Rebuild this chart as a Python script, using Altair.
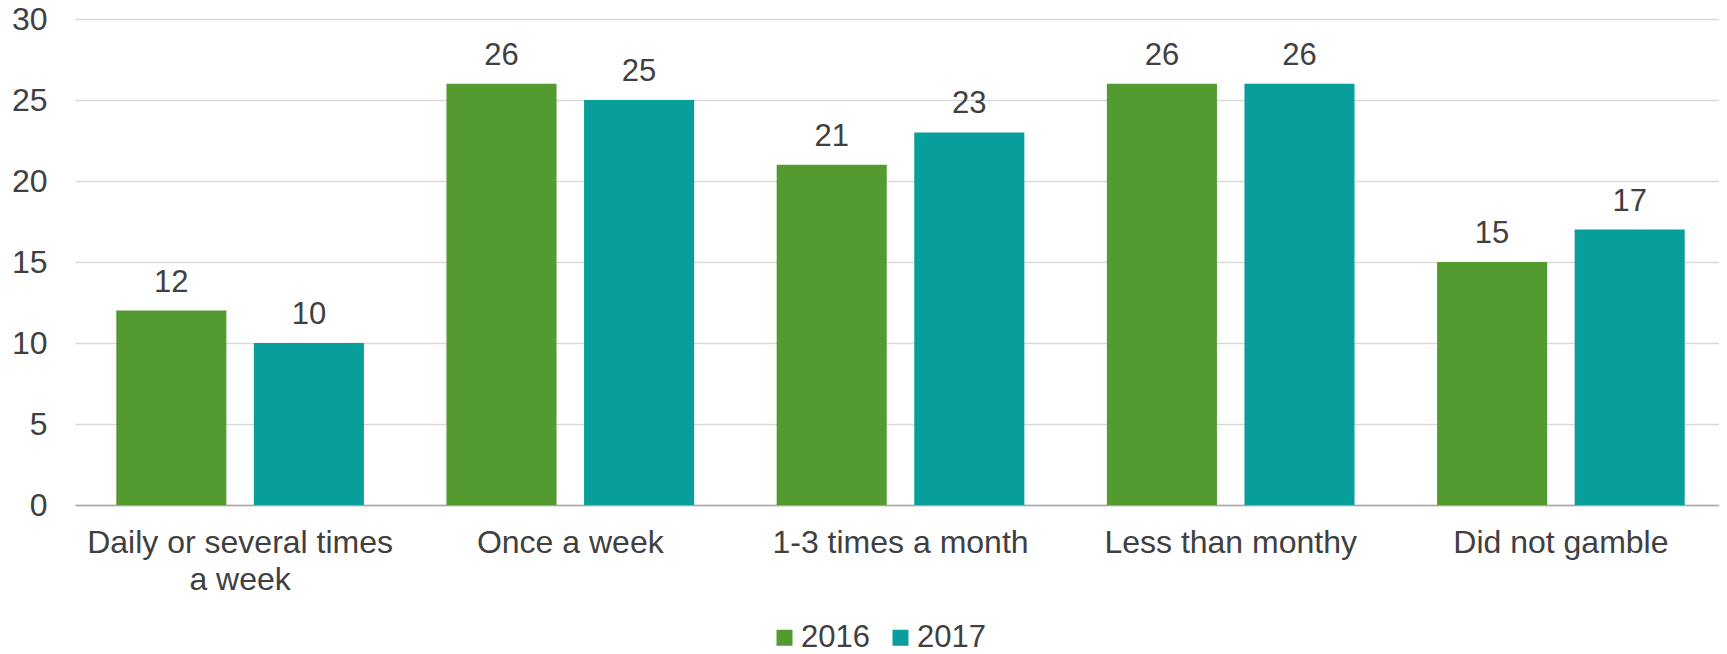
import altair as alt
import pandas as pd

categories = ["Daily or several times|a week", "Once a week", "1-3 times a month",
              "Less than monthy", "Did not gamble"]
years = ["2016", "2017"]
values_2016 = [12, 26, 21, 26, 15]
values_2017 = [10, 25, 23, 26, 17]
colors = ["#539A30", "#089E9C"]

rows = []
for c, v in zip(categories, values_2016):
    rows.append({"cat": c, "year": "2016", "value": v})
for c, v in zip(categories, values_2017):
    rows.append({"cat": c, "year": "2017", "value": v})
df = pd.DataFrame(rows)

FONT = "Liberation Sans"
TXT = "#404040"

x = alt.X("cat:N", sort=categories, title=None,
          scale=alt.Scale(paddingInner=0.25, paddingOuter=0.125, range=[0, 1651]),
          axis=alt.Axis(labelExpr="split(datum.label, '|')", labelAngle=0, labelLimit=0,
                        labelFontSize=32, labelFont=FONT, labelColor=TXT,
                        labelLineHeight=37, labelPadding=22, ticks=False,
                        domainColor="#a6a6a6", domainWidth=1.5, labelBaseline="top"))
xo = alt.XOffset("year:N", sort=years, scale=alt.Scale(paddingInner=0.2, paddingOuter=0))

y = alt.Y("value:Q", title=None,
          scale=alt.Scale(domain=[0, 30], nice=False),
          axis=alt.Axis(values=[0, 5, 10, 15, 20, 25, 30], labelFontSize=32, labelFont=FONT,
                        labelColor=TXT, labelPadding=28, ticks=False, domain=False,
                        gridColor="#d9d9d9", gridWidth=1.5))

color = alt.Color("year:N", sort=years, title=None,
                  scale=alt.Scale(domain=years, range=colors),
                  legend=alt.Legend(orient="none", legendX=694, legendY=603, direction="horizontal",
                                    symbolType="square", symbolSize=256, symbolStrokeWidth=0,
                                    labelFontSize=31, labelFont=FONT, labelColor=TXT,
                                    labelOffset=1, columnPadding=15, padding=0))

bars = alt.Chart(df).mark_bar().encode(x=x, xOffset=xo, y=y, color=color)
labels = alt.Chart(df).mark_text(font=FONT, fontSize=31, color=TXT, dy=-19,
                                  baseline="alphabetic").encode(
    x=alt.X("cat:N", sort=categories), xOffset=alt.XOffset("year:N", sort=years),
    y="value:Q", text="value:Q")

chart = alt.layer(bars, labels).properties(
    width=1644, height=486,
    autosize=alt.AutoSizeParams(type="none"),
    padding={"left": 67, "top": 11, "right": 0, "bottom": 149},
).configure_view(stroke=None).configure_axis(grid=True).configure_axisX(grid=False)

chart.save("out.html", embed_options={"renderer": "svg", "actions": False})
